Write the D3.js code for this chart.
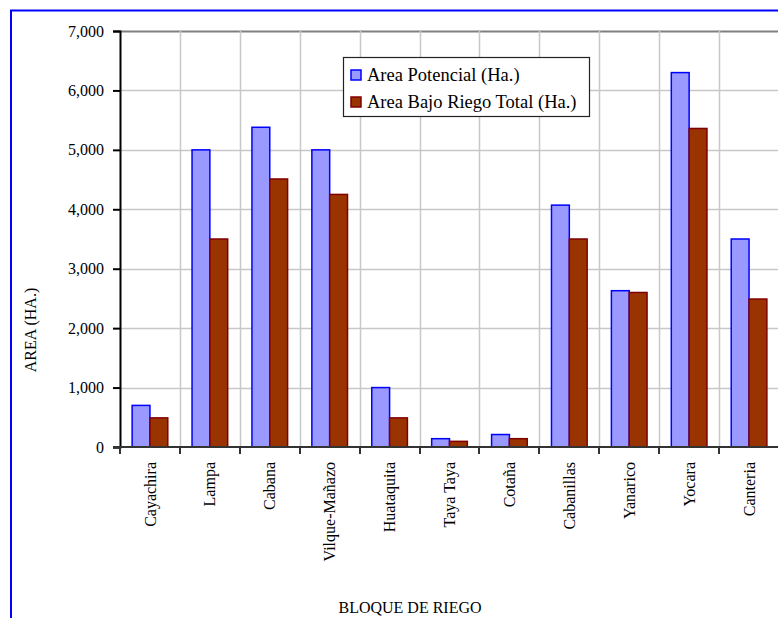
<!DOCTYPE html>
<html>
<head>
<meta charset="utf-8">
<script src="https://cdn.jsdelivr.net/npm/d3@7"></script>
<style>
  html, body { margin: 0; padding: 0; background: #fff; }
  svg { display: block; }
  text { font-family: "Liberation Serif", "Times New Roman", serif; fill: #000; }
</style>
</head>
<body>
<svg id="chart" width="778" height="618"></svg>
<script>
const categories = ["Cayachira", "Lampa", "Cabana", "Vilque-Mañazo", "Huataquita", "Taya Taya", "Cotaña", "Cabanillas", "Yanarico", "Yocara", "Canteria"];
const seriesNames = ["Area Potencial (Ha.)", "Area Bajo Riego Total (Ha.)"];
const areaPotencial = [700, 5000, 5380, 5000, 1000, 140, 210, 4070, 2630, 6300, 3500];
const areaBajoRiego = [490, 3500, 4510, 4250, 490, 95, 140, 3500, 2600, 5360, 2490];
const yTicks = [0, 1000, 2000, 3000, 4000, 5000, 6000, 7000];
const fills = ["#9999ff", "#993300"];
const strokes = ["#0000ff", "#800000"];

const svg = d3.select("#chart");

// outer frame
svg.append("path")
  .attr("d", "M11,618 V10.5 H778")
  .attr("fill", "none").attr("stroke", "#0000ff").attr("stroke-width", 2);

const pLeft = 120, pTop = 31, pBottom = 447, pRight = 779;
const x = d3.scaleBand().domain(categories).range([pLeft, pRight]).padding(0);
const xs = d3.scaleBand().domain(seriesNames).range([0, x.bandwidth()]).paddingInner(0).paddingOuter(0.68);
const y = d3.scaleLinear().domain([0, 7000]).range([pBottom, pTop]);

// horizontal gridlines
svg.append("g").selectAll("line").data(yTicks.filter(t => t > 0)).join("line")
  .attr("x1", pLeft).attr("x2", 778)
  .attr("y1", d => Math.round(y(d)) + 0.5).attr("y2", d => Math.round(y(d)) + 0.5)
  .attr("stroke", d => d === 7000 ? "#808080" : "#c8c8c8").attr("stroke-width", d => d === 7000 ? 2 : 1.5);

// vertical gridlines
svg.append("g").selectAll("line").data(categories.slice(1)).join("line")
  .attr("x1", d => Math.round(x(d)) + 0.5).attr("x2", d => Math.round(x(d)) + 0.5)
  .attr("y1", pTop).attr("y2", pBottom)
  .attr("stroke", "#c8c8c8").attr("stroke-width", 1.5);

// bars
const data = categories.map((c, i) => ({ c, vals: [areaPotencial[i], areaBajoRiego[i]] }));
const groups = svg.append("g").selectAll("g").data(data).join("g")
  .attr("transform", d => `translate(${x(d.c)},0)`);
groups.selectAll("rect").data(d => d.vals.map((v, j) => ({ v, j }))).join("rect")
  .attr("x", d => xs(seriesNames[d.j]))
  .attr("width", xs.bandwidth())
  .attr("y", d => y(d.v))
  .attr("height", d => y(0) - y(d.v))
  .attr("fill", d => fills[d.j])
  .attr("stroke", d => strokes[d.j])
  .attr("stroke-width", 1.5);

// y axis
const yAxis = d3.axisLeft(y).tickValues(yTicks).tickSize(7).tickPadding(9)
  .tickFormat(d3.format(","));
const gy = svg.append("g").attr("transform", `translate(${pLeft},0)`).call(yAxis);
gy.attr("font-family", null);
gy.select(".domain").attr("stroke", "#000").attr("stroke-width", 2);
gy.selectAll(".tick line").attr("stroke", "#000").attr("stroke-width", 2);
gy.selectAll("text").style("font-family", "'Liberation Serif', serif").style("font-size", "16px").attr("fill", "#222");

// x axis line and ticks
svg.append("line").attr("x1", pLeft - 7).attr("x2", 778).attr("y1", pBottom).attr("y2", pBottom)
  .attr("stroke", "#333").attr("stroke-width", 2);
svg.append("g").selectAll("line").data(categories).join("line")
  .attr("x1", d => Math.round(x(d))).attr("x2", d => Math.round(x(d)))
  .attr("y1", pBottom).attr("y2", pBottom + 7)
  .attr("stroke", "#333").attr("stroke-width", 2);

// x labels
svg.append("g").selectAll("text").data(categories).join("text")
  .attr("transform", d => `translate(${x(d) + x.bandwidth() / 2},462) rotate(-90)`)
  .attr("text-anchor", "end").attr("dy", "0.35em")
  .style("font-size", "16px").attr("fill", "#222")
  .text(d => d);

// axis titles
svg.append("text").attr("x", 410).attr("y", 613).attr("text-anchor", "middle")
  .style("font-size", "16px").attr("fill", "#222").text("BLOQUE DE RIEGO");
svg.append("text").attr("transform", "translate(30,330) rotate(-90)")
  .attr("text-anchor", "middle").attr("dy", "0.35em")
  .style("font-size", "16px").attr("fill", "#222").text("AREA (HA.)");

// legend
const lg = svg.append("g");
lg.append("rect").attr("x", 343.5).attr("y", 57.5).attr("width", 246).attr("height", 59)
  .attr("fill", "#fff").attr("stroke", "#222").attr("stroke-width", 1.2);
seriesNames.forEach((s, i) => {
  const cy = 75 + i * 27;
  lg.append("rect").attr("x", 351).attr("y", cy - 5).attr("width", 10).attr("height", 10)
    .attr("fill", fills[i]).attr("stroke", strokes[i]).attr("stroke-width", 1.5);
  lg.append("text").attr("x", 367).attr("y", cy).attr("dy", "0.35em")
    .style("font-size", "18.5px").attr("fill", "#111").text(s);
});
</script>
</body>
</html>
